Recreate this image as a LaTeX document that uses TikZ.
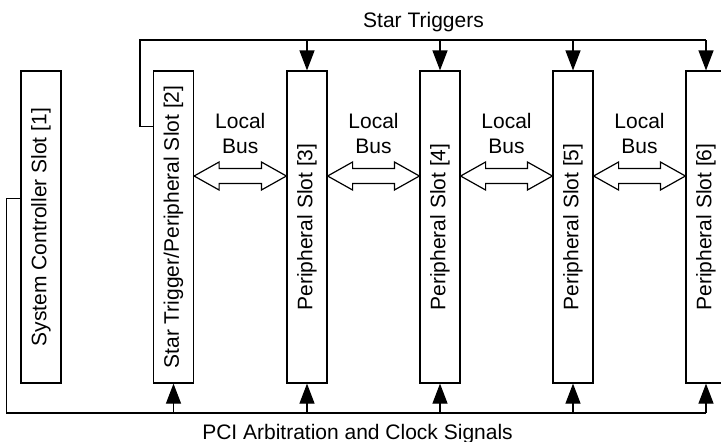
\documentclass[tikz,border=0pt]{standalone}
\usepackage{fontspec}
\setmainfont{Liberation Sans}
\usepackage{graphicx}
\usetikzlibrary{arrows.meta,calc}

\begin{document}
\begin{tikzpicture}[x=0.5pt,y=-0.5pt,
    font=\fontsize{10.5}{12.5}\selectfont]
    \tikzset{slot/.style = {draw,
        line width     = 0.6pt,
        inner sep      = 0pt,
        minimum width  = 20pt,
        minimum height = 156pt
        },
      sig/.style      = {line width=0.6pt},
      sigarrow/.style = {sig, -{Triangle[width=7.5pt,length=10pt]}},
      bus/.style      = {draw, fill=white, line width=0.6pt, line join=miter}}

    \useasboundingbox (0,0) rectangle (721,441);

    % The slots.
    \node[slot] (s1) at (41,227)    {\rotatebox{90}{System Controller Slot [1]}};
    \node[slot] (s2) at (173.5,227) {\rotatebox{90}{Star Trigger/Peripheral Slot [2]}};
    \node[slot] (s3) at (307,227)   {\rotatebox{90}{Peripheral Slot [3]}};
    \node[slot] (s4) at (440,227)   {\rotatebox{90}{Peripheral Slot [4]}};
    \node[slot] (s5) at (573,227)   {\rotatebox{90}{Peripheral Slot [5]}};
    \node[slot] (s6) at (706,227)   {\rotatebox{90}{Peripheral Slot [6]}};

    % Star triggers from slot 2.
    \coordinate (st) at (706,40);
    \draw[sig] ($(s2.north west)+(0,56)$) -- ++(-13,0) |- (st);
    \foreach \s in {s3,s4,s5,s6}
      \draw[sigarrow] (\s.north |- st) -- (\s.north);
    \node[anchor=base] (sttext) at (423.5,27.3) {Star Triggers};

    % PCI arbitration and clocks from slot 1.
    \coordinate (pci) at (706,413);
    \draw[sig] ($(s1.north west)+(0,128)$) -- ++(-14,0) |- (pci);
    \foreach \s in {s2,s3,s4,s5,s6}
      \draw[sigarrow] (\s.south |- pci) -- (\s.south);
    \node[anchor=base] (pcitext) at (357.5,439.5) {PCI Arbitration and Clock Signals};

    % Local bus between neighbours.
    \coordinate (busy) at (0,176);
    \coordinate (lbl)  at (0,133);
    \foreach \a/\b in {s2/s3,s3/s4,s4/s5,s5/s6}{
      \draw[bus] (\a.east |- busy) -- ++(25,-14) -- ++(0,6.5)
        -- ($(\b.west |- busy)+(-25,-7.5)$) -- ++(0,-6.5) -- (\b.west |- busy)
        -- ++(-25,14) -- ++(0,-6.5) -- ($(\a.east |- busy)+(25,7.5)$)
        -- ++(0,6.5) -- cycle;
      \node[align=center] (lb\a) at ($(\a.east |- lbl)!0.5!(\b.west |- lbl)$) {Local\\Bus};
    }
\end{tikzpicture}
\end{document}
